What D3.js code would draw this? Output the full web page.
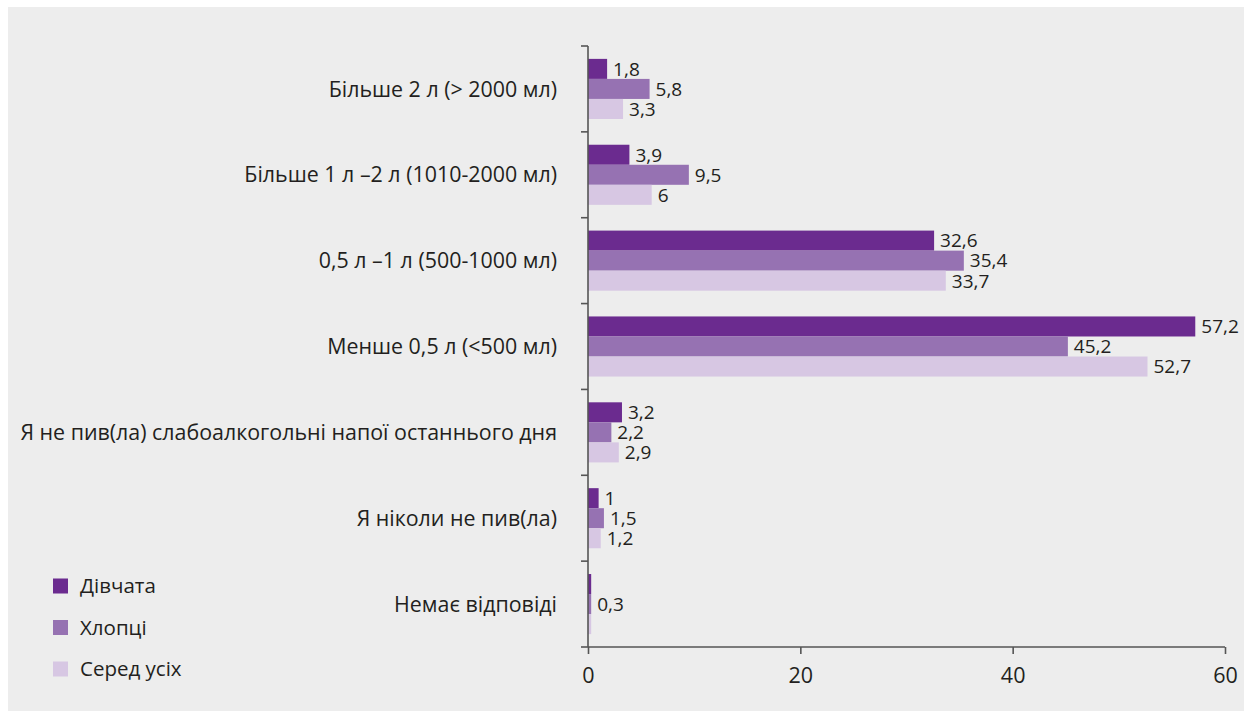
<!DOCTYPE html>
<html><head><meta charset="utf-8">
<script src="https://cdn.jsdelivr.net/npm/d3@7"></script>
<style>body{margin:0;background:#fff;}svg{display:block;}</style>
</head><body>
<svg id="chart" width="1244" height="711"></svg>
<script>
const categories = [
  "Більше 2 л (> 2000 мл)",
  "Більше 1 л –2 л (1010-2000 мл)",
  "0,5 л –1 л (500-1000 мл)",
  "Менше 0,5 л (<500 мл)",
  "Я не пив(ла) слабоалкогольні напої останнього дня",
  "Я ніколи не пив(ла)",
  "Немає відповіді"
];
const seriesNames = ["Дівчата", "Хлопці", "Серед усіх"];
const girls = [1.8, 3.9, 32.6, 57.2, 3.2, 1.0, 0.3];
const boys  = [5.8, 9.5, 35.4, 45.2, 2.2, 1.5, 0.3];
const all   = [3.3, 6.0, 33.7, 52.7, 2.9, 1.2, 0.3];
// shown value labels (null = no label in original)
const girlsLabels = ["1,8", "3,9", "32,6", "57,2", "3,2", "1", null];
const boysLabels  = ["5,8", "9,5", "35,4", "45,2", "2,2", "1,5", "0,3"];
const allLabels   = ["3,3", "6", "33,7", "52,7", "2,9", "1,2", null];
const xTicks = [0, 20, 40, 60];
const colors = ["#6b2b8f", "#9672b2", "#d7c7e3"];

const series = [girls, boys, all];
const labels = [girlsLabels, boysLabels, allLabels];

const svg = d3.select("#chart");
const font = "'Open Sans', 'Noto Sans', sans-serif";
svg.append("rect").attr("x", 8).attr("y", 7).attr("width", 1236).attr("height", 704).attr("fill", "#ededed");

const x = d3.scaleLinear().domain([0, 60]).range([588, 1225]);
const y = d3.scaleBand().domain(categories).range([46, 647]).paddingInner(0.3).paddingOuter(0.15);
const sub = d3.scaleBand().domain(d3.range(3)).range([0, y.bandwidth()]);

// bars
series.forEach((vals, si) => {
  const g = svg.append("g");
  g.selectAll("rect").data(categories).join("rect")
    .attr("x", x(0))
    .attr("y", c => y(c) + sub(si))
    .attr("width", (c, i) => x(vals[i]) - x(0))
    .attr("height", sub.bandwidth())
    .attr("fill", colors[si]);
  g.selectAll("text").data(categories).join("text")
    .filter((c, i) => labels[si][i] !== null)
    .attr("x", c => x(vals[categories.indexOf(c)]) + 6)
    .attr("y", c => y(c) + sub(si) + sub.bandwidth() / 2)
    .attr("dy", "0.36em")
    .attr("font-family", font).attr("font-size", 19).attr("fill", "#231f20")
    .text(c => labels[si][categories.indexOf(c)]);
});

// y axis with ticks at band boundaries
const yAxisG = svg.append("g");
const bounds = d3.range(categories.length + 1).map(i => 46 + i * (601 / categories.length));
yAxisG.append("line").attr("x1", 588).attr("x2", 588).attr("y1", 46).attr("y2", 647).attr("stroke", "#555").attr("stroke-width", 1.6);
yAxisG.selectAll("line.t").data(bounds).join("line").attr("class", "t")
  .attr("x1", 581).attr("x2", 588).attr("y1", d => d).attr("y2", d => d)
  .attr("stroke", "#555").attr("stroke-width", 1.6);
svg.append("g").selectAll("text").data(categories).join("text")
  .attr("x", 557).attr("y", c => y(c) + y.bandwidth() / 2).attr("dy", "0.36em")
  .attr("text-anchor", "end").attr("font-family", font).attr("font-size", 21.4).attr("fill", "#231f20")
  .text(c => c);

// x axis
const xAxis = d3.axisBottom(x).tickValues(xTicks).tickSize(7).tickPadding(14).tickFormat(d3.format("d"));
const xg = svg.append("g").attr("transform", "translate(0,647)").call(xAxis);
xg.select(".domain").attr("stroke", "#555").attr("stroke-width", 1.6).attr("d", "M588,0H1225");
xg.selectAll(".tick line").attr("stroke", "#555").attr("stroke-width", 1.6);
xg.selectAll(".tick text").attr("font-family", font).attr("font-size", 21.5).attr("fill", "#231f20");

// legend
const leg = svg.append("g");
seriesNames.forEach((n, i) => {
  const cy = 586 + i * 41.5;
  leg.append("rect").attr("x", 53).attr("y", cy - 7.5).attr("width", 15).attr("height", 15).attr("fill", colors[i]);
  leg.append("text").attr("x", 80).attr("y", cy).attr("dy", "0.36em")
    .attr("font-family", font).attr("font-size", 20.5).attr("fill", "#231f20").text(n);
});
</script>
</body></html>
